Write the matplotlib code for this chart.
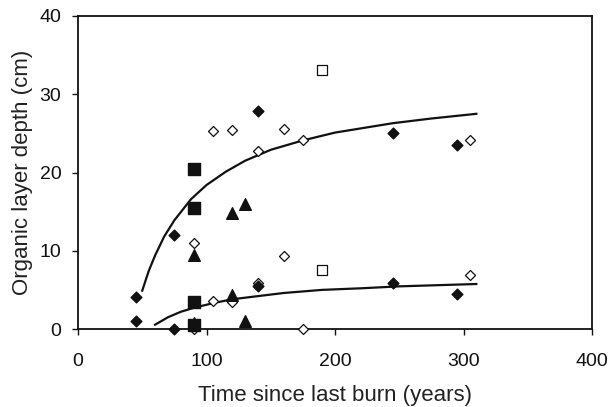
import numpy as np
import matplotlib
matplotlib.use("Agg")
import matplotlib.pyplot as plt

plt.rcParams['font.family'] = ['Liberation Sans', 'DejaVu Sans']

# filled diamonds
fd_x = [45, 45, 75, 75, 140, 140, 245, 245, 295, 295]
fd_y = [4.1, 1.0, 12.0, 0.0, 27.8, 5.5, 25.0, 5.9, 23.5, 4.5]
# open diamonds
od_x = [90, 90, 105, 120, 140, 160, 175, 305, 105, 120, 140, 160, 175, 305]
od_y = [11.0, 0.0, 25.3, 25.4, 22.7, 25.5, 24.2, 24.2, 3.6, 3.4, 5.9, 9.3, 0.0, 6.9]
# filled squares
fs_x = [90, 90, 90, 90]
fs_y = [20.4, 15.4, 3.4, 0.5]
# open squares
os_x = [190, 190]
os_y = [33.1, 7.6]
# filled triangles
ft_x = [90, 90, 120, 130, 120, 130]
ft_y = [9.5, 0.8, 14.8, 16.0, 4.3, 1.0]

# trend curves
up_x = [50, 55, 60, 67, 75, 88, 100, 115, 130, 150, 175, 200, 245, 275, 310]
up_y = [4.9, 7.4, 9.4, 11.8, 13.9, 16.6, 18.4, 20.1, 21.5, 22.9, 24.1, 25.1, 26.3, 26.9, 27.5]
lo_x = [60, 70, 80, 90, 105, 120, 140, 160, 190, 220, 250, 280, 310]
lo_y = [0.55, 1.5, 2.2, 2.7, 3.3, 3.8, 4.2, 4.6, 5.0, 5.2, 5.45, 5.6, 5.75]

xticks = [0, 100, 200, 300, 400]
yticks = [0, 10, 20, 30, 40]

fig = plt.figure(figsize=(6.11, 4.07), dpi=100)
ax = fig.add_axes([78/611, 1 - 329/407, (592-78)/611, (329-16)/407])

ax.plot(up_x, up_y, color='#111111', lw=1.6, zorder=2)
ax.plot(lo_x, lo_y, color='#111111', lw=1.6, zorder=2)

ax.scatter(od_x, od_y, marker='D', s=26, facecolor='white', edgecolor='#111111', lw=0.9, zorder=3, clip_on=False)
ax.scatter(os_x, os_y, marker='s', s=60, facecolor='white', edgecolor='#111111', lw=0.9, zorder=3, clip_on=False)
ax.scatter(fs_x, fs_y, marker='s', s=80, color='#111111', zorder=4, clip_on=False)
ax.scatter(ft_x, ft_y, marker='^', s=70, color='#111111', zorder=4, clip_on=False)
ax.scatter(fd_x, fd_y, marker='D', s=30, color='#111111', zorder=4, clip_on=False)

ax.set_xlim(0, 400)
ax.set_ylim(0, 40)
ax.set_xticks(xticks)
ax.set_yticks(yticks)
ax.tick_params(direction='out', length=4, width=1, labelsize=14, colors='#111111')
ax.tick_params(axis='x', pad=13)
ax.tick_params(axis='y', pad=8)
for s in ax.spines.values():
    s.set_linewidth(1.3)
    s.set_color('#111111')

ax.set_xlabel('Time since last burn (years)', fontsize=16, color='#222222', labelpad=11)
ax.set_ylabel('Organic layer depth (cm)', fontsize=16, color='#222222', labelpad=5)

fig.savefig('out.png', dpi=100)
